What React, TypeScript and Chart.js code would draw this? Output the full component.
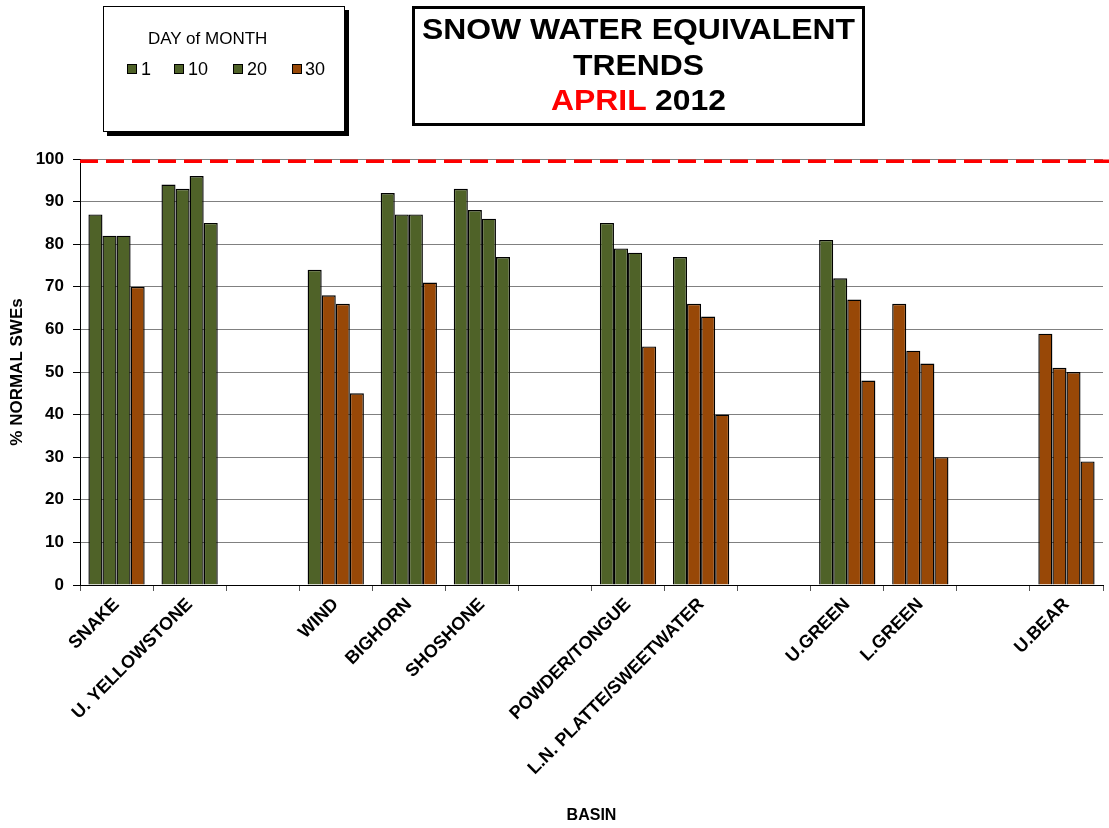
import React, { useEffect, useRef } from "react";
import { Chart, registerables } from "chart.js";

Chart.register(...registerables);

const BASINS = [
  "SNAKE",
  "U. YELLOWSTONE",
  "",
  "WIND",
  "BIGHORN",
  "SHOSHONE",
  "",
  "POWDER/TONGUE",
  "L.N. PLATTE/SWEETWATER",
  "",
  "U.GREEN",
  "L.GREEN",
  "",
  "U.BEAR",
];
const DAY_LABELS = ["1", "10", "20", "30"];
const DAY1 = [87, 94, null, 74, 92, 93, null, 85, 77, null, 81, 66, null, 59];
const DAY10 = [82, 93, null, 68, 87, 88, null, 79, 66, null, 72, 55, null, 51];
const DAY20 = [82, 96, null, 66, 87, 86, null, 78, 63, null, 67, 52, null, 50];
const DAY30 = [70, 85, null, 45, 71, 77, null, 56, 40, null, 48, 30, null, 29];
const Y_MIN = 0;
const Y_MAX = 100;
const Y_STEP = 10;
const NORMAL_LINE = 99.5;
const GREEN_THRESHOLD = 72;

const GREEN = "#4F6228";
const BROWN = "#984807";
const FONT = "'Liberation Sans', Arial, Helvetica, sans-serif";

const normalLinePlugin = {
  id: "normalLine",
  afterDatasetsDraw(chart: any) {
    const { ctx, chartArea, scales } = chart;
    const y = scales.y.getPixelForValue(NORMAL_LINE);
    ctx.save();
    ctx.strokeStyle = "#FF0000";
    ctx.lineWidth = 3.5;
    ctx.setLineDash([18, 8]);
    ctx.beginPath();
    ctx.moveTo(chartArea.left, y);
    ctx.lineTo(chart.width, y);
    ctx.stroke();
    ctx.restore();
  },
};

function colorsFor(values: (number | null)[]) {
  return values.map((v) => (v !== null && v >= GREEN_THRESHOLD ? GREEN : BROWN));
}

export default function App() {
  const canvasRef = useRef<HTMLCanvasElement | null>(null);

  useEffect(() => {
    document.body.style.margin = "0";
    const canvas = canvasRef.current;
    if (!canvas) return;
    const series = [DAY1, DAY10, DAY20, DAY30];
    const chart = new Chart(canvas, {
      type: "bar",
      data: {
        labels: BASINS,
        datasets: series.map((d, i) => ({
          label: DAY_LABELS[i],
          data: d,
          backgroundColor: colorsFor(d),
          borderColor: "#000000",
          borderWidth: 1.4,
          categoryPercentage: 0.77,
          barPercentage: 1.0,
        })),
      },
      options: {
        animation: false,
        responsive: true,
        maintainAspectRatio: false,
        layout: { padding: { top: 159, right: 6, left: 0, bottom: 0 } },
        plugins: {
          legend: { display: false },
          tooltip: { enabled: false },
        },
        scales: {
          x: {
            grid: {
              display: true,
              drawOnChartArea: false,
              drawTicks: true,
              tickLength: 6,
              color: "#555555",
              tickColor: "#555555",
              offset: true,
            },
            border: { display: true, color: "#000000", width: 1 },
            ticks: {
              autoSkip: false,
              maxRotation: 45,
              minRotation: 45,
              color: "#000000",
              padding: 3,
              font: { family: FONT, size: 18, weight: "bold" },
            },
            title: {
              display: true,
              text: "BASIN",
              color: "#000000",
              font: { family: FONT, size: 16, weight: "bold" },
              padding: { top: 0, bottom: 3 },
            },
            afterFit: (s: any) => {
              s.height = 243;
            },
          },
          y: {
            min: Y_MIN,
            max: Y_MAX,
            ticks: {
              stepSize: Y_STEP,
              color: "#000000",
              padding: 9,
              font: { family: FONT, size: 17, weight: "bold" },
            },
            grid: {
              color: "#808080",
              tickColor: "#000000",
              drawTicks: true,
              tickLength: 7,
            },
            border: { display: true, color: "#000000", width: 1 },
            title: {
              display: true,
              text: "% NORMAL SWEs",
              color: "#000000",
              font: { family: FONT, size: 17, weight: "bold" },
              padding: { top: 7, bottom: 0 },
            },
            afterFit: (s: any) => {
              s.width = 80;
            },
          },
        },
      } as any,
      plugins: [normalLinePlugin],
    });
    return () => chart.destroy();
  }, []);

  const legendItems = [
    { label: DAY_LABELS[0], color: GREEN, sq: 127, tx: 141 },
    { label: DAY_LABELS[1], color: GREEN, sq: 174, tx: 188 },
    { label: DAY_LABELS[2], color: GREEN, sq: 233, tx: 247 },
    { label: DAY_LABELS[3], color: BROWN, sq: 292, tx: 305 },
  ];

  return (
    <div
      style={{
        position: "absolute",
        left: 0,
        top: 0,
        width: 1109,
        height: 828,
        background: "#ffffff",
        fontFamily: FONT,
      }}
    >
      <canvas ref={canvasRef} />
      {/* Legend box */}
      <div
        style={{
          position: "absolute",
          left: 103,
          top: 6,
          width: 240,
          height: 124,
          border: "1px solid #000",
          boxShadow: "4px 4px 0 #000",
          background: "#fff",
        }}
      />
      <div
        style={{
          position: "absolute",
          left: 148,
          top: 28,
          fontSize: 17,
          lineHeight: "22px",
          color: "#000",
          whiteSpace: "nowrap",
        }}
      >
        DAY of MONTH
      </div>
      {legendItems.map((it) => (
        <React.Fragment key={it.label}>
          <div
            style={{
              position: "absolute",
              left: it.sq,
              top: 64,
              width: 8,
              height: 8,
              background: it.color,
              border: "1.5px solid #000",
            }}
          />
          <div
            style={{
              position: "absolute",
              left: it.tx,
              top: 58,
              fontSize: 18,
              lineHeight: "22px",
              color: "#000",
              whiteSpace: "nowrap",
            }}
          >
            {it.label}
          </div>
        </React.Fragment>
      ))}
      {/* Title box */}
      <div
        style={{
          position: "absolute",
          left: 412,
          top: 6,
          width: 447,
          height: 114,
          border: "3px solid #000",
          background: "#fff",
        }}
      />
      <div
        style={{
          position: "absolute",
          left: 415,
          top: 12,
          width: 447,
          textAlign: "center",
          fontWeight: "bold",
          fontSize: 29,
          lineHeight: "35.5px",
          color: "#000",
          transform: "scaleX(1.1)",
          transformOrigin: "center",
        }}
      >
        <div>SNOW WATER EQUIVALENT</div>
        <div>TRENDS</div>
        <div>
          <span style={{ color: "#FF0000" }}>APRIL</span> 2012
        </div>
      </div>
    </div>
  );
}
